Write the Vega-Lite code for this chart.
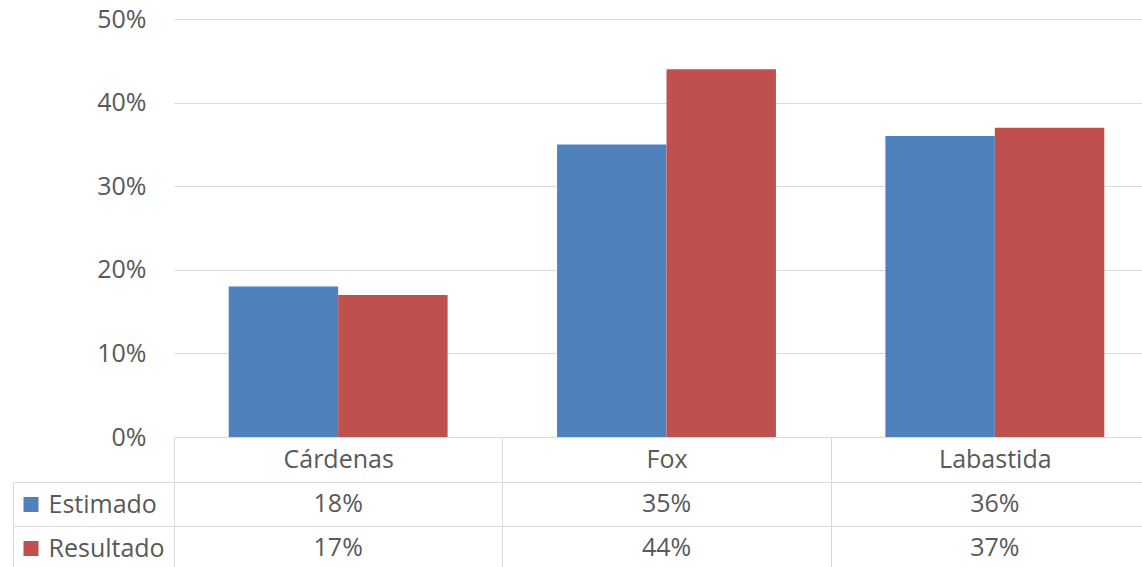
{
  "$schema": "https://vega.github.io/schema/vega-lite/v6.json",
  "padding": {"left": 12, "top": 7, "right": -17, "bottom": -2},
  "spacing": -13,
  "config": {
    "view": {"stroke": null},
    "font": "Open Sans",
    "axis": {"labelFont": "Open Sans", "labelFontSize": 25, "labelColor": "#595959", "title": null},
    "text": {"font": "Open Sans"}
  },
  "datasets": {
    "votes": [
      {"candidato": "Cárdenas", "serie": "Estimado", "valor": 0.18},
      {"candidato": "Cárdenas", "serie": "Resultado", "valor": 0.17},
      {"candidato": "Fox", "serie": "Estimado", "valor": 0.35},
      {"candidato": "Fox", "serie": "Resultado", "valor": 0.44},
      {"candidato": "Labastida", "serie": "Estimado", "valor": 0.36},
      {"candidato": "Labastida", "serie": "Resultado", "valor": 0.37}
    ]
  },
  "vconcat": [
    {
      "width": 969,
      "height": 418,
      "data": {"name": "votes"},
      "mark": {"type": "bar"},
      "encoding": {
        "x": {
          "field": "candidato", "type": "nominal", "sort": ["Cárdenas", "Fox", "Labastida"],
          "scale": {"type": "band", "range": [0, 985], "paddingInner": 0, "paddingOuter": 0},
          "axis": {"orient": "bottom", "domain": false, "ticks": true, "tickBand": "extent", "tickSize": 44, "tickColor": "#d9d9d9", "tickWidth": 1, "labelPadding": -22, "labelBaseline": "middle", "labelAngle": 0, "grid": false}
        },
        "xOffset": {
          "field": "serie", "type": "nominal", "sort": ["Estimado", "Resultado"],
          "scale": {"paddingInner": 0, "paddingOuter": 0.5}
        },
        "y": {
          "field": "valor", "type": "quantitative",
          "scale": {"domain": [0, 0.5]},
          "axis": {"format": ".0%", "values": [0, 0.1, 0.2, 0.3, 0.4, 0.5], "domain": false, "ticks": false, "labelPadding": 28, "gridColor": "#d9d9d9", "gridWidth": 1}
        },
        "color": {
          "field": "serie", "type": "nominal",
          "scale": {"domain": ["Estimado", "Resultado"], "range": ["#4f81bd", "#c0504d"]},
          "legend": null
        }
      }
    },
    {
      "width": 969,
      "height": 88,
      "data": {"name": "votes"},
      "layer": [
        {
          "mark": {"type": "text", "fontSize": 25, "color": "#595959", "font": "Open Sans"},
          "encoding": {
            "x": {
              "field": "candidato", "type": "nominal", "sort": ["Cárdenas", "Fox", "Labastida"],
              "scale": {"type": "band", "range": [0, 985], "paddingInner": 0, "paddingOuter": 0},
              "axis": {"orient": "bottom", "domain": false, "ticks": false, "labels": false, "grid": true, "tickBand": "extent", "gridColor": "#d9d9d9", "gridWidth": 1}
            },
            "y": {
              "field": "serie", "type": "nominal", "sort": ["Estimado", "Resultado"],
              "scale": {"type": "band", "paddingInner": 0, "paddingOuter": 0},
              "axis": {"orient": "left", "domain": true, "domainColor": "#d9d9d9", "ticks": true, "tickBand": "extent", "tickSize": 161, "tickColor": "#d9d9d9", "tickWidth": 1, "labelAlign": "left", "labelPadding": -35, "labelBaseline": "middle", "grid": true, "gridColor": "#d9d9d9", "gridWidth": 1}
            },
            "text": {"field": "valor", "type": "quantitative", "format": ".0%"}
          }
        },
        {
          "mark": {"type": "text"},
          "encoding": {
            "y": {
              "field": "serie", "type": "nominal", "sort": ["Estimado", "Resultado"],
              "scale": {"type": "band", "paddingInner": 0, "paddingOuter": 0},
              "axis": {"orient": "left", "offset": 136, "domain": false, "labels": false, "grid": false, "ticks": true, "tickBand": "center", "tickSize": 15, "tickWidth": 15,
                "tickColor": {"condition": {"test": "datum.value === 'Estimado'", "value": "#4f81bd"}, "value": "#c0504d"}}
            },
            "text": {"value": ""}
          }
        },
        {
          "mark": {"type": "text"},
          "encoding": {
            "y": {
              "field": "serie", "type": "nominal", "sort": ["Estimado", "Resultado"],
              "scale": {"type": "band", "paddingInner": 0, "paddingOuter": 0},
              "axis": {"orient": "left", "offset": 161, "domain": true, "domainColor": "#d9d9d9", "domainWidth": 1, "labels": false, "grid": false, "ticks": false}
            },
            "text": {"value": ""}
          }
        }
      ],
      "resolve": {"scale": {"y": "independent"}, "axis": {"y": "independent"}}
    }
  ],
  "resolve": {"scale": {"x": "independent", "y": "independent"}}
}
